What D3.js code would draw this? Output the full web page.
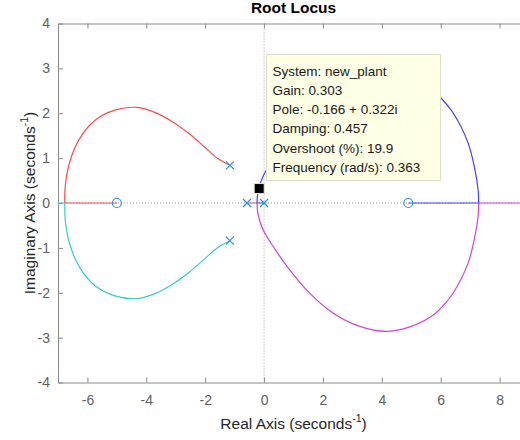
<!doctype html>
<html lang="en">
<head>
<meta charset="utf-8">
<title>Root Locus</title>
<script src="https://cdn.jsdelivr.net/npm/d3@7"></script>
<style>
  body { margin: 0; background: #fff; }
  svg { font-family: "Liberation Sans", Arial, Helvetica, sans-serif; }
</style>
</head>
<body>
<svg id="chart" width="520" height="440"></svg>
<script>
// tick values
var xTicks = [-6, -4, -2, 0, 2, 4, 6, 8];
var yTicks = [-4, -3, -2, -1, 0, 1, 2, 3, 4];

// open-loop poles and zeros
var poles = [[-1.16, 0.84], [-1.16, -0.84], [-0.58, 0], [0, 0]];
var zeros = [[-5, 0], [4.9, 0]];

// branches (real, imag)
var redCurve = [[-1.16, 0.84], [-1.57, 0.99], [-2.01, 1.24], [-2.52, 1.53], [-3.14, 1.82], [-3.71, 2.02], [-4.32, 2.13],
  [-5.07, 2.07], [-5.75, 1.84], [-6.26, 1.44], [-6.60, 0.92], [-6.75, 0.40], [-6.77, 0]];
var redReal = [[-6.77, 0], [-5, 0]];

var cyanCurve = [[-1.16, -0.84], [-1.57, -0.99], [-2.01, -1.24], [-2.52, -1.53], [-3.14, -1.82], [-3.71, -2.02], [-4.32, -2.13],
  [-5.07, -2.07], [-5.75, -1.84], [-6.26, -1.44], [-6.60, -0.92], [-6.75, -0.40], [-6.77, 0]];
var cyanReal = [[-6.77, 0], [-7.5, 0]];

var blueReal1 = [[0, 0], [-0.24, 0]];
var blueCurve = [[-0.24, 0], [-0.2, 0.27], [-0.03, 0.6], [0.31, 0.97], [0.87, 1.49], [1.55, 2.01], [2.34, 2.45],
  [3.25, 2.75], [4.16, 2.86], [4.95, 2.76], [5.74, 2.50], [6.08, 2.29], [6.42, 2.01], [6.93, 1.34], [7.16, 0.75],
  [7.27, 0.30], [7.29, 0]];
var blueReal2 = [[7.29, 0], [4.9, 0]];

var magentaReal1 = [[-0.58, 0], [-0.24, 0]];
var magentaCurve = [[-0.24, 0], [-0.2, -0.27], [-0.03, -0.6], [0.31, -0.97], [0.87, -1.49], [1.55, -2.01], [2.34, -2.45],
  [3.25, -2.75], [4.16, -2.86], [4.95, -2.76], [5.74, -2.50], [6.08, -2.29], [6.42, -2.01], [6.93, -1.34], [7.16, -0.75],
  [7.27, -0.30], [7.29, 0]];
var magentaReal2 = [[7.29, 0], [9.5, 0]];

// data tip
var tipPole = [-0.166, 0.322];
var tipLines = ["System: new_plant", "Gain: 0.303", "Pole: -0.166 + 0.322i", "Damping: 0.457",
  "Overshoot (%): 19.9", "Frequency (rad/s): 0.363"];

var svg = d3.select("#chart");
var padL = 58, padR = 529, padT = 23.5, padB = 382.5;

var x = d3.scaleLinear().domain([-7, 9]).range([padL, padR]);
var y = d3.scaleLinear().domain([-4, 4]).range([padB, padT]);

svg.append("defs").append("clipPath").attr("id", "clip")
  .append("rect").attr("x", padL).attr("y", padT).attr("width", padR - padL).attr("height", padB - padT);

// title
svg.append("text").attr("x", (padL + padR) / 2).attr("y", 13)
  .attr("text-anchor", "middle").attr("font-weight", "bold").attr("font-size", 15.5).attr("fill", "#000")
  .text("Root Locus");

// axes (ticks pointing inward, like matlab)
var tickColor = "#8a8a8a", labelColor = "#606060";
var plainNum = function(d) { return String(d); };  // plain hyphen, not unicode minus
function styleAxis(g) {
  g.select(".domain").attr("stroke", tickColor);
  g.selectAll(".tick line").attr("stroke", tickColor);
  g.selectAll(".tick text").attr("fill", labelColor).attr("font-size", 14).attr("font-family", null);
}
svg.append("g").attr("transform", "translate(0," + padB + ")")
  .call(d3.axisBottom(x).tickValues(xTicks).tickFormat(plainNum).tickSizeInner(-5).tickSizeOuter(0).tickPadding(13))
  .call(styleAxis);
svg.append("g").attr("transform", "translate(0," + padT + ")")
  .call(d3.axisTop(x).tickValues(xTicks).tickSizeInner(-5).tickSizeOuter(0).tickFormat(""))
  .call(styleAxis);
svg.append("g").attr("transform", "translate(" + padL + ",0)")
  .call(d3.axisLeft(y).tickValues(yTicks).tickFormat(plainNum).tickSizeInner(-5).tickSizeOuter(0).tickPadding(8))
  .call(styleAxis);

// axis labels
var xl = svg.append("text").attr("x", (padL + padR) / 2).attr("y", 429)
  .attr("text-anchor", "middle").attr("font-size", 15.5).attr("fill", "#262626");
xl.append("tspan").text("Real Axis (seconds");
xl.append("tspan").attr("dy", -7).attr("font-size", 10.5).text("-1");
xl.append("tspan").attr("dy", 7).text(")");

var yl = svg.append("text").attr("transform", "translate(35," + (padT + padB) / 2 + ") rotate(-90)")
  .attr("text-anchor", "middle").attr("font-size", 15.5).attr("fill", "#262626");
yl.append("tspan").text("Imaginary Axis (seconds");
yl.append("tspan").attr("dy", -7).attr("font-size", 10.5).text("-1");
yl.append("tspan").attr("dy", 7).text(")");

var plot = svg.append("g").attr("clip-path", "url(#clip)");

// dotted zero lines
plot.append("line").attr("x1", x(0)).attr("x2", x(0)).attr("y1", padT).attr("y2", padB)
  .attr("stroke", "#a0a0a0").attr("stroke-dasharray", "1,2");
plot.append("line").attr("x1", padL).attr("x2", padR).attr("y1", y(0)).attr("y2", y(0))
  .attr("stroke", "#a0a0a0").attr("stroke-dasharray", "1,2");

var smooth = d3.line().x(function(d) { return x(d[0]); }).y(function(d) { return y(d[1]); })
  .curve(d3.curveCatmullRom.alpha(0.5));
var straight = d3.line().x(function(d) { return x(d[0]); }).y(function(d) { return y(d[1]); });

var branches = [
  { color: "#ff4a4a", curve: redCurve, real: [redReal] },
  { color: "#35cccc", curve: cyanCurve, real: [cyanReal] },
  { color: "#4040ff", curve: blueCurve, real: [blueReal1, blueReal2] },
  { color: "#d540d5", curve: magentaCurve, real: [magentaReal1, magentaReal2] }
];
branches.forEach(function(b) {
  b.real.forEach(function(seg) {
    plot.append("path").attr("d", straight(seg)).attr("fill", "none")
      .attr("stroke", b.color).attr("stroke-width", 1.2);
  });
  plot.append("path").attr("d", smooth(b.curve)).attr("fill", "none")
    .attr("stroke", b.color).attr("stroke-width", 1.2);
});

// poles (x) and zeros (o)
var markColor = "#2f8fd8";
poles.forEach(function(p) {
  var cx = x(p[0]), cy = y(p[1]), s = 4;
  plot.append("path").attr("d", "M" + (cx - s) + "," + (cy - s) + "L" + (cx + s) + "," + (cy + s) +
    "M" + (cx - s) + "," + (cy + s) + "L" + (cx + s) + "," + (cy - s))
    .attr("stroke", markColor).attr("stroke-width", 1.2).attr("fill", "none");
});
zeros.forEach(function(z) {
  plot.append("circle").attr("cx", x(z[0])).attr("cy", y(z[1])).attr("r", 4.5)
    .attr("fill", "none").attr("stroke", markColor).attr("stroke-width", 1.2);
});

// data tip marker and box
plot.append("rect").attr("x", x(tipPole[0]) - 5).attr("y", y(tipPole[1]) - 5).attr("width", 10).attr("height", 10)
  .attr("fill", "#000").attr("stroke", "#e8e8c8").attr("stroke-width", 1);

var tip = svg.append("g").attr("transform", "translate(266.5,54.5)");
tip.append("rect").attr("width", 174).attr("height", 126)
  .attr("fill", "#ffffe6").attr("stroke", "#dcdcc8").attr("stroke-width", 1);
tip.selectAll("text").data(tipLines).enter().append("text")
  .attr("x", 6).attr("y", function(d, i) { return 21 + i * 19.3; })
  .attr("font-size", 13.5).attr("fill", "#1a1a1a")
  .text(function(d) { return d; });
</script>
</body>
</html>
